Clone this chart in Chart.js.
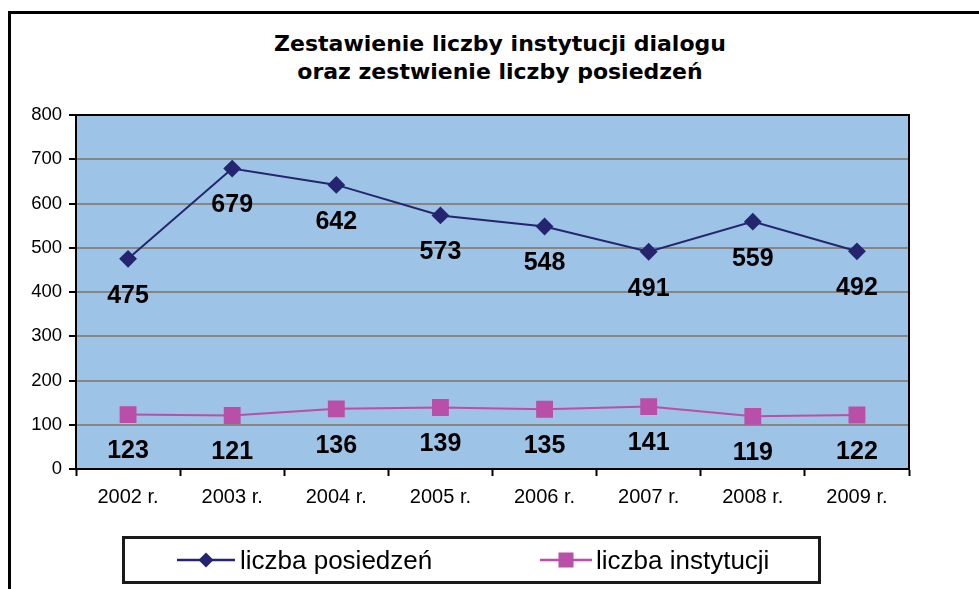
<!DOCTYPE html>
<html lang="pl">
<head>
  <meta charset="UTF-8" />
  <title>Zestawienie liczby instytucji dialogu</title>
  <style>
    body { margin: 0; width: 979px; height: 589px; overflow: hidden; background: #fff; font-family: "Liberation Sans", Arial, sans-serif; }
    .ramka { position: absolute; left: 8px; top: 11px; width: 1000px; height: 600px; border-left: 3px solid #000; border-top: 3px solid #000; }
    .tytul { position: absolute; left: 0; width: 1000px; top: 30px; text-align: center; font-family: "DejaVu Sans", Verdana, sans-serif; font-weight: bold; font-size: 22px; line-height: 28px; color: #000; }
    canvas { position: absolute; left: 0; top: 0; }
    .legenda { position: absolute; left: 122px; top: 536px; width: 693px; height: 42px; border: 3px solid #1a1a1a; }
    .poz { position: absolute; top: 0; height: 42px; line-height: 42px; font-size: 26px; color: #000; white-space: nowrap; }
    .poz svg { position: absolute; top: 12px; }
  </style>
</head>
<body>
  <div class="ramka"></div>
  <div class="tytul">Zestawienie liczby instytucji dialogu<br>oraz zestwienie liczby posiedzeń</div>
  <canvas id="wykres" width="979" height="589"></canvas>
  <div class="legenda" id="legenda"></div>

  <script src="https://cdn.jsdelivr.net/npm/chart.js"></script>
  <script>
    // Dane
    const lata = ['2002 r.', '2003 r.', '2004 r.', '2005 r.', '2006 r.', '2007 r.', '2008 r.', '2009 r.'];
    const posiedzenia = [475, 679, 642, 573, 548, 491, 559, 492];
    const instytucje = [123, 121, 136, 139, 135, 141, 119, 122];
    const nazwy = ['liczba posiedzeń', 'liczba instytucji'];

    const kolorGranat = '#25256f';
    const kolorRoz = '#b94fa8';

    // Tło obszaru wykresu i ramka
    const tloPlugin = {
      id: 'tlo',
      beforeDraw(chart) {
        const { ctx, chartArea: a } = chart;
        ctx.save();
        ctx.fillStyle = '#9dc3e6';
        ctx.fillRect(a.left, a.top, a.right - a.left, a.bottom - a.top);
        ctx.restore();
      },
      afterDraw(chart) {
        const { ctx, chartArea: a } = chart;
        ctx.save();
        ctx.strokeStyle = '#000';
        ctx.lineWidth = 2;
        ctx.beginPath();
        ctx.moveTo(a.left, a.top);
        ctx.lineTo(a.right, a.top);
        ctx.lineTo(a.right, a.bottom);
        ctx.stroke();
        ctx.restore();
      }
    };

    // Etykiety wartości pod punktami
    const etykietyPlugin = {
      id: 'etykiety',
      afterDatasetsDraw(chart) {
        const ctx = chart.ctx;
        ctx.save();
        ctx.font = 'bold 25px "Liberation Sans", Arial, sans-serif';
        ctx.fillStyle = '#000';
        ctx.textAlign = 'center';
        ctx.textBaseline = 'middle';
        chart.data.datasets.forEach((ds, i) => {
          chart.getDatasetMeta(i).data.forEach((pt, j) => {
            ctx.fillText(ds.data[j], pt.x, pt.y + 37);
          });
        });
        ctx.restore();
      }
    };

    new Chart(document.getElementById('wykres'), {
      type: 'line',
      data: {
        labels: lata,
        datasets: [
          {
            label: nazwy[0],
            data: posiedzenia,
            borderColor: kolorGranat,
            backgroundColor: kolorGranat,
            borderWidth: 2,
            pointStyle: 'rectRot',
            pointRadius: 7.5,
            pointHoverRadius: 7.5,
            tension: 0
          },
          {
            label: nazwy[1],
            data: instytucje,
            borderColor: kolorRoz,
            backgroundColor: kolorRoz,
            borderWidth: 2,
            pointStyle: 'rect',
            pointRadius: 10.5,
            pointHoverRadius: 10.5,
            tension: 0
          }
        ]
      },
      options: {
        responsive: false,
        animation: false,
        events: [],
        layout: { padding: { left: 20, right: 70, top: 115, bottom: 0 } },
        plugins: {
          legend: { display: false },
          title: { display: false },
          tooltip: { enabled: false }
        },
        scales: {
          x: {
            offset: true,
            afterFit(s) { s.height = 120; },
            grid: { offset: true, drawOnChartArea: false, tickColor: '#000', tickWidth: 2, tickLength: 7 },
            border: { color: '#000', width: 2 },
            ticks: { color: '#000', padding: 9, font: { family: '"Liberation Sans", Arial, sans-serif', size: 20 } }
          },
          y: {
            min: 0,
            max: 800,
            afterFit(s) { s.width = 56; },
            grid: { color: '#868686', lineWidth: 2, tickColor: '#000', tickWidth: 2, tickLength: 7 },
            border: { color: '#000', width: 2 },
            ticks: { stepSize: 100, color: '#000', padding: 7, font: { family: '"Liberation Sans", Arial, sans-serif', size: 18.5 } }
          }
        }
      },
      plugins: [tloPlugin, etykietyPlugin]
    });

    // Legenda HTML
    const legenda = document.getElementById('legenda');
    legenda.innerHTML = `
      <div class="poz" style="left:52px;">
        <svg width="58" height="18" style="left:0;"><line x1="0" y1="9" x2="58" y2="9" stroke="${kolorGranat}" stroke-width="2.5"/><polygon points="29,1.5 36.5,9 29,16.5 21.5,9" fill="${kolorGranat}"/></svg>
        <span style="position:absolute;left:63px;">${nazwy[0]}</span>
      </div>
      <div class="poz" style="left:415px;">
        <svg width="52" height="18" style="left:0;"><line x1="0" y1="9" x2="52" y2="9" stroke="${kolorRoz}" stroke-width="2.5"/><rect x="18.5" y="1.5" width="15" height="15" fill="${kolorRoz}"/></svg>
        <span style="position:absolute;left:56px;">${nazwy[1]}</span>
      </div>`;
  </script>
</body>
</html>
